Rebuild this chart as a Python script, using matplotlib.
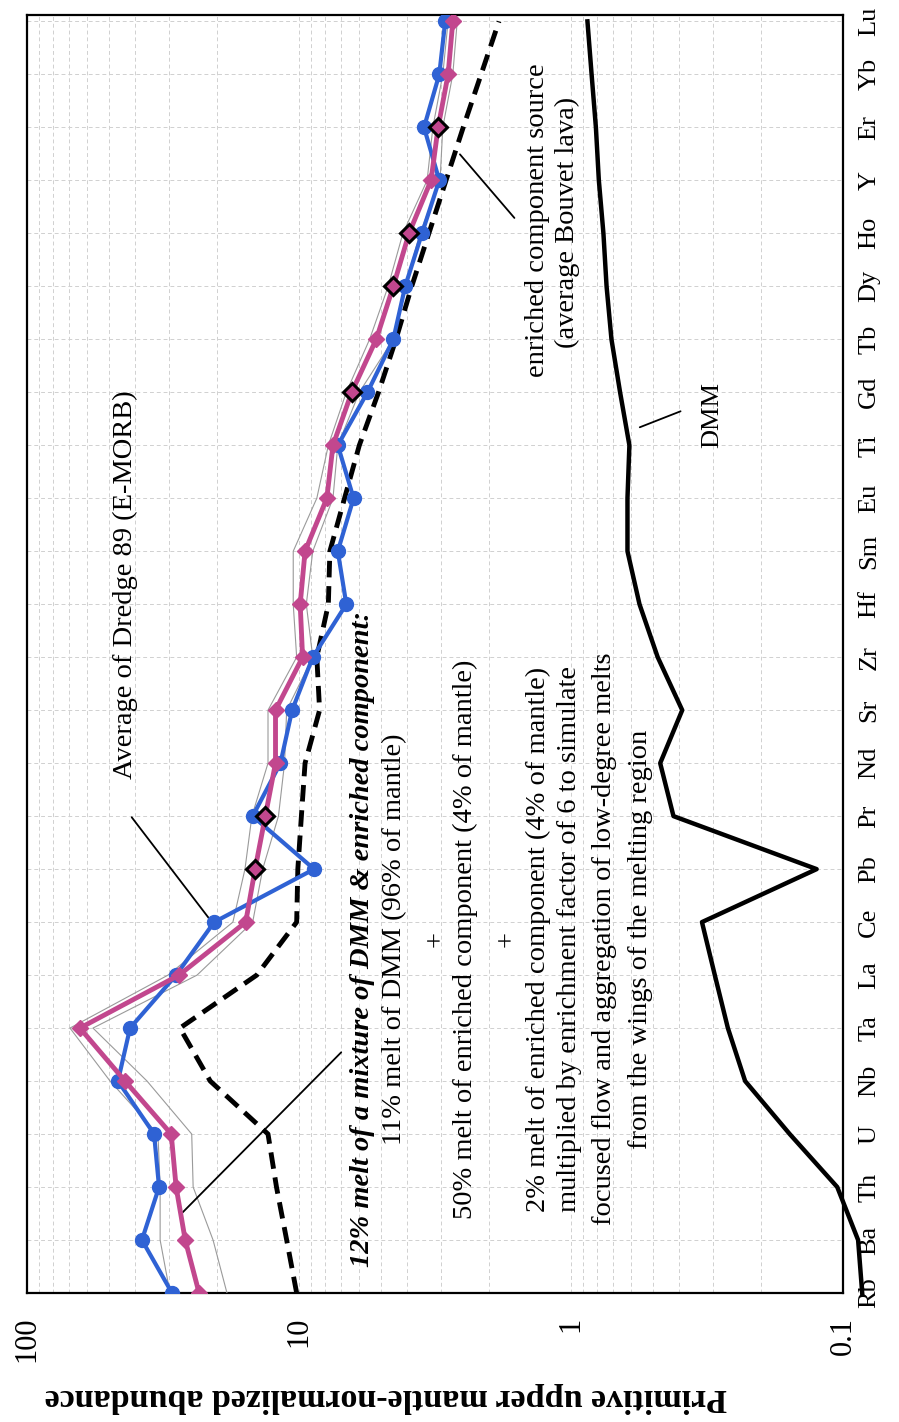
import numpy as np
import matplotlib
matplotlib.use("agg")
import matplotlib.pyplot as plt
from matplotlib.ticker import LogLocator, NullFormatter

plt.rcParams['font.family'] = ['Liberation Serif', 'DejaVu Serif']

# element order along the spider diagram (Rb at the bottom, Lu at the top)
elements = ["Rb", "Ba", "Th", "U", "Nb", "Ta", "La", "Ce", "Pb", "Pr", "Nd", "Sr", "Zr",
            "Hf", "Sm", "Eu", "Ti", "Gd", "Tb", "Dy", "Ho", "Y", "Er", "Yb", "Lu"]

# average of Dredge 89 (E-MORB), blue circles
dredge89 = [29.3, 37.8, 32.7, 34.1, 46.3, 41.8, 28.3, 20.5, 8.8, 14.8, 11.7, 10.6, 8.9,
            6.7, 7.2, 6.3, 7.2, 5.6, 4.5, 4.07, 3.53, 3.05, 3.47, 3.05, 2.90]
# 12% melt model, pink diamonds
model_melt = [23.3, 26.2, 28.3, 29.5, 43.6, 63.9, 27.6, 15.7, 14.5, 13.3, 12.2, 12.2, 9.7,
              9.9, 9.5, 7.9, 7.5, 6.4, 5.2, 4.5, 3.94, 3.27, 3.08, 2.83, 2.72]
# thin grey envelope around the model
model_hi = [29.8, 32.4, 32.4, 33.0, 49.5, 69.5, 30.3, 17.5, 15.8, 14.9, 13.0, 13.0, 10.2,
            10.5, 10.5, 8.6, 7.8, 6.7, 5.5, 4.7, 4.15, 3.38, 3.22, 2.96, 2.83]
model_lo = [18.4, 20.7, 24.5, 24.8, 36.2, 57.2, 23.7, 14.8, 13.6, 11.9, 11.3, 11.1, 8.9,
            9.4, 8.9, 7.5, 7.2, 6.0, 4.5, 4.07, 3.59, 3.03, 2.96, 2.72, 2.62]
# enriched component source (average Bouvet lava), dashed
bouvet = [10.2, 11.1, 12.1, 13.0, 21.2, 27.4, 14.3, 10.2, 10.1, 9.8, 9.5, 8.4, 8.6,
          7.8, 7.7, 6.8, 6.0, 5.1, 4.4, 3.85, 3.33, 2.88, 2.49, 2.14, 1.84]
# depleted MORB mantle
dmm = [0.085, 0.088, 0.105, 0.157, 0.229, 0.265, 0.296, 0.330, 0.125, 0.42, 0.47, 0.39, 0.48,
       0.56, 0.62, 0.62, 0.61, 0.66, 0.71, 0.74, 0.76, 0.79, 0.81, 0.84, 0.87]
# model points drawn with a black outline
outlined = ["Pb", "Pr", "Gd", "Dy", "Ho", "Er"]

BLUE = '#2f62d4'
PINK = '#c2478e'

pos = np.arange(len(elements))

fig = plt.figure(figsize=(8.99, 14.22), dpi=100)
ax = fig.add_axes([27 / 899, 1 - 1293 / 1422, 816 / 899, 1278 / 1422])
ax.set_xscale('log')
ax.set_xlim(100, 0.1)
ax.set_ylim(0, 24.12)

# grid
ax.xaxis.set_minor_locator(LogLocator(base=10, subs=np.arange(2, 10)))
ax.xaxis.set_minor_formatter(NullFormatter())
ax.grid(True, which='both', axis='x', color='#d0d0d0', lw=0.7, ls=(0, (4, 3)))
ax.grid(True, which='major', axis='y', color='#d0d0d0', lw=0.7, ls=(0, (4, 3)))
ax.set_axisbelow(True)

# curves
ax.plot(dmm, pos, color='black', lw=3.2, clip_on=False, zorder=2)
ax.plot(bouvet, pos, color='black', lw=3.5, dashes=(3.4, 1.8), zorder=3)
ax.plot(model_hi, pos, color='#9a9a9a', lw=0.8, zorder=3)
ax.plot(model_lo, pos, color='#9a9a9a', lw=0.8, zorder=3)
ax.plot(dredge89, pos, color=BLUE, lw=3, marker='o', ms=10, zorder=4)
ax.plot(model_melt, pos, color=PINK, lw=3.5, marker='D', ms=8, zorder=5)
idx = [elements.index(e) for e in outlined]
ax.plot([model_melt[i] for i in idx], [pos[i] for i in idx], ls='none', marker='D', ms=9,
        mfc=PINK, mec='black', mew=2.2, zorder=6)

# ticks and labels
ax.set_xticks([100, 10, 1, 0.1])
ax.set_xticklabels(['100', '10', '1', '0.1'], rotation=90, fontsize=22)
ax.yaxis.tick_right()
ax.set_yticks(pos)
ax.set_yticklabels(elements, rotation=90, va='center', fontsize=19)
ax.tick_params(which='both', length=0)
ax.tick_params(axis='x', pad=17)
ax.tick_params(axis='y', pad=11)
ax.set_xlabel('Primitive upper mantle-normalized abundance', rotation=180,
              fontsize=24.5, fontweight='bold', labelpad=14)
ax.xaxis.label.set_x(0.44)
for s in ax.spines.values():
    s.set_linewidth(1.6)

# annotations
fs = 20.5
ax.text(43.6, 13.36, 'Average of Dredge 89 (E-MORB)', rotation=90, ha='center', va='center',
        fontsize=fs)
ax.annotate('', xy=(21.2, 7.04), xytext=(41.8, 9.02),
            arrowprops=dict(arrowstyle='-', lw=1.3, color='black'))

ax.annotate('', xy=(27.4, 1.47), xytext=(6.88, 4.58),
            arrowprops=dict(arrowstyle='-', lw=1.3, color='black'))
yc = 6.68
ax.text(5.85, yc, '12% melt of a mixture of DMM & enriched component:', rotation=90,
        ha='center', va='center', fontsize=fs, fontweight='bold', fontstyle='italic')
lines = [(4.45, '11% melt of DMM (96% of mantle)'),
         (3.11, '+'),
         (2.45, '50% melt of enriched component (4% of mantle)'),
         (1.71, '+'),
         (1.32, '2% melt of enriched component (4% of mantle)'),
         (1.01, 'multiplied by enrichment factor of 6 to simulate'),
         (0.75, 'focused flow and aggregation of low-degree melts'),
         (0.557, 'from the wings of the melting region')]
for xv, t in lines:
    ax.text(xv, yc, t, rotation=90, ha='center', va='center', fontsize=fs)

ax.text(1.33, 20.25, 'enriched component source', rotation=90, ha='center', va='center',
        fontsize=fs)
ax.text(1.03, 20.2, '(average Bouvet lava)', rotation=90, ha='center', va='center',
        fontsize=fs)
ax.annotate('', xy=(1.59, 20.25), xytext=(2.60, 21.53),
            arrowprops=dict(arrowstyle='-', lw=1.3, color='black'))

ax.text(0.303, 16.57, 'DMM', rotation=90, ha='center', va='center', fontsize=19)
ax.annotate('', xy=(0.387, 16.66), xytext=(0.571, 16.32),
            arrowprops=dict(arrowstyle='-', lw=1.3, color='black'))

fig.savefig('out.png', dpi=100)
